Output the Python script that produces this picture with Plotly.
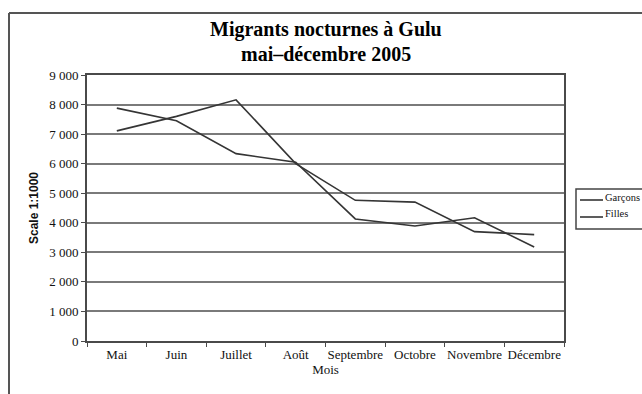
import plotly.graph_objects as go

mois = ["Mai", "Juin", "Juillet", "Août", "Septembre", "Octobre", "Novembre", "Décembre"]
garcons = [7880, 7450, 6340, 6050, 4130, 3890, 4170, 3180]
filles = [7110, 7600, 8160, 6000, 4760, 4700, 3700, 3600]
y_ticks = [0, 1000, 2000, 3000, 4000, 5000, 6000, 7000, 8000, 9000]
series = [("Garçons", garcons), ("Filles", filles)]

serif = "Liberation Serif, Times New Roman, serif"
sans = "Liberation Sans, Arial, sans-serif"
line_col = "#353535"

L, R, T, B = 87, 78, 75, 53
W, H = 642, 394
pw, ph = W - L - R, H - T - B


def px2x(px):
    return (px - L) / pw


def px2y(py):
    return (H - B - py) / ph


fig = go.Figure()
for name, vals in series:
    fig.add_trace(go.Scatter(x=mois, y=vals, name=name, mode="lines",
                             line=dict(color=line_col, width=1.6),
                             showlegend=False))

fig.update_layout(
    width=W, height=H,
    margin=dict(l=L, r=R, t=T, b=B),
    paper_bgcolor="white", plot_bgcolor="white",
    separators=", ",
    font=dict(family=serif, color="#111", size=13),
    showlegend=False,
    xaxis=dict(type="category", range=[-0.5, 7.5], showgrid=False,
               showline=True, mirror=True, automargin=False, tickangle=0,
               linecolor="#4a4a4a", linewidth=2, ticks="outside", ticklen=4,
               tickcolor="#4a4a4a", tickson="boundaries",
               title=dict(text="Mois", font=dict(family=serif, size=13), standoff=1),
               tickfont=dict(family=serif, size=13, color="#111")),
    yaxis=dict(range=[0, 9000], tickvals=y_ticks, tickformat=",d",
               showgrid=True, gridcolor="#7a7a7a", gridwidth=2, automargin=False,
               showline=True, mirror=True, linecolor="#4a4a4a", linewidth=2,
               ticks="outside", ticklen=4, tickcolor="#4a4a4a", zeroline=False,
               title=dict(text="<b>Scale 1:1000</b>",
                          font=dict(family=sans, size=12), standoff=8),
               tickfont=dict(family=serif, size=13, color="#111")),
)

# title, two lines
for txt, yc in [("Migrants nocturnes à Gulu", 30), ("mai–décembre 2005", 54)]:
    fig.add_annotation(text="<b>" + txt + "</b>", xref="paper", yref="paper",
                       x=px2x(326), y=px2y(yc), xanchor="center", yanchor="middle",
                       showarrow=False, font=dict(family=serif, size=20, color="#000"))

# outer frame (scanned page border)
fig.add_shape(type="line", xref="paper", yref="paper",
              x0=px2x(9), x1=px2x(645), y0=px2y(13), y1=px2y(13),
              line=dict(color="#555", width=2))
fig.add_shape(type="line", xref="paper", yref="paper",
              x0=px2x(9), x1=px2x(9), y0=px2y(13), y1=px2y(400),
              line=dict(color="#555", width=2))

# legend box
fig.add_shape(type="rect", xref="paper", yref="paper",
              x0=px2x(576), x1=px2x(646), y0=px2y(189), y1=px2y(229),
              line=dict(color="#444", width=1.5), fillcolor="white")
for i, (name, _) in enumerate(series):
    yc = 200 + i * 17
    fig.add_shape(type="line", xref="paper", yref="paper",
                  x0=px2x(580), x1=px2x(603), y0=px2y(yc), y1=px2y(yc),
                  line=dict(color=line_col, width=1.6))
    fig.add_annotation(text=name, xref="paper", yref="paper",
                       x=px2x(603), y=px2y(yc - 3), xanchor="left", yanchor="middle",
                       showarrow=False, font=dict(family=serif, size=10.5, color="#111"))

fig.write_html("out.html")
